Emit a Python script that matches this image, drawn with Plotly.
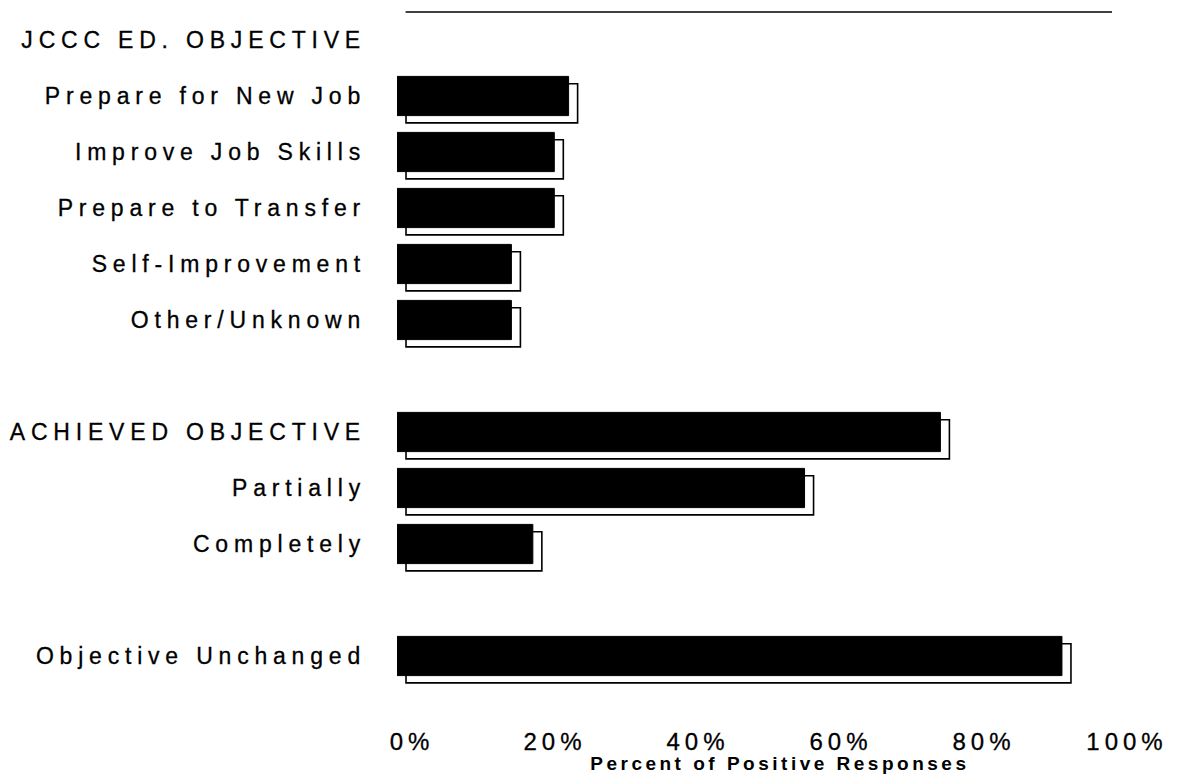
import plotly.graph_objects as go

categories = ["JCCC ED. OBJECTIVE", "Prepare for New Job", "Improve Job Skills",
              "Prepare to Transfer", "Self-Improvement", "Other/Unknown", "",
              "ACHIEVED OBJECTIVE", "Partially", "Completely", "",
              "Objective Unchanged"]
values = [None, 24, 22, 22, 16, 16, None, 76, 57, 19, None, 93]
x_ticks = [0, 20, 40, 60, 80, 100]
x_tick_labels = ["0%", "20%", "40%", "60%", "80%", "100%"]
x_title = "Percent of Positive Responses"

rows = list(range(len(categories)))
SHADOW_DX = 1.26   # shadow shift to the right, in percent units
SHADOW_DY = 0.13   # shadow shift downward, in row units
BAR_W = 0.7

fig = go.Figure()
# shadow outline behind each bar
fig.add_trace(go.Bar(
    x=values, y=rows, orientation="h", base=SHADOW_DX,
    width=BAR_W, offset=-BAR_W / 2 + SHADOW_DY,
    marker=dict(color="white", line=dict(color="black", width=1.6)),
    hoverinfo="skip", showlegend=False))
# solid black bars
fig.add_trace(go.Bar(
    x=values, y=rows, orientation="h",
    width=BAR_W, offset=-BAR_W / 2,
    marker=dict(color="black", line=dict(color="black", width=1)),
    showlegend=False))

font_family = "Liberation Sans, Arial, sans-serif"
# page body has an 8px margin, so the figure is sized to fit inside the window
fig.update_layout(
    width=1176, height=770,
    margin=dict(l=389, r=72, t=4, b=94),
    paper_bgcolor="white", plot_bgcolor="white",
    barmode="overlay",
    font=dict(family=font_family, size=23, color="black"),
    xaxis=dict(range=[0, 100], tickmode="array", tickvals=x_ticks,
               ticktext=x_tick_labels,
               showgrid=False, zeroline=False, showline=False, ticks="",
               tickfont=dict(size=24), ticklabelshift=15, ticklabelstandoff=41),
    yaxis=dict(range=[len(categories) - 0.5, -0.5], tickvals=rows,
               ticktext=categories, showgrid=False, zeroline=False,
               showline=False, ticks="", tickfont=dict(size=23),
               ticklabelstandoff=30),
    shapes=[dict(type="line", xref="x", yref="paper", x0=1.2, x1=102,
                 y0=1, y1=1, line=dict(color="black", width=1.5))],
    annotations=[dict(text=x_title, xref="paper", yref="paper", x=0.535,
                      y=-0.118, xanchor="center", yanchor="middle",
                      showarrow=False,
                      font=dict(size=19, weight="bold", family=font_family))],
)

post = """
function applySpacing(){
  var gd = document.getElementById('{plot_id}');
  if(!gd) return;
  gd.querySelectorAll('.ytick text').forEach(function(t){
    t.style.letterSpacing='5.8px'; t.style.stroke='black'; t.style.strokeWidth='0.3px';});
  gd.querySelectorAll('.xtick text').forEach(function(t){
    t.style.letterSpacing='5px'; t.style.stroke='black'; t.style.strokeWidth='0.3px';});
  gd.querySelectorAll('.annotation-text').forEach(function(t){t.style.letterSpacing='3.5px';});
}
applySpacing(); setTimeout(applySpacing, 30); setTimeout(applySpacing, 300);
"""
fig.write_html("out.html", post_script=post)
